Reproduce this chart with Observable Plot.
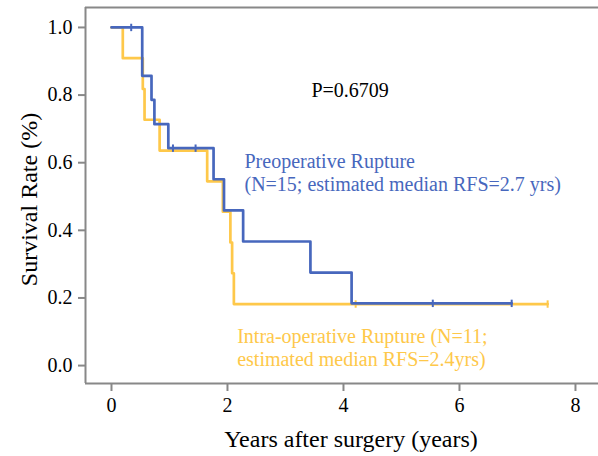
<!DOCTYPE html>
<html>
<head>
<meta charset="utf-8">
<script src="https://cdn.jsdelivr.net/npm/d3@7"></script>
<script src="https://cdn.jsdelivr.net/npm/@observablehq/plot@0.6"></script>
<style>
  html, body { margin: 0; padding: 0; background: #fff; }
</style>
</head>
<body>
<div id="chart"></div>
<script>
// Preoperative Rupture (N=15)
const preTimes = [0, 0.53, 0.69, 0.74, 0.98, 1.76, 1.94, 2.27, 3.43, 4.14, 6.90];
const preSurv  = [1, 0.857, 0.786, 0.714, 0.643, 0.551, 0.459, 0.367, 0.275, 0.184, 0.184];
const preCensorTimes = [0.34, 1.06, 1.45, 5.54, 6.90];
const preCensorSurv  = [1, 0.643, 0.643, 0.184, 0.184];

// Intra-operative Rupture (N=11)
const intraTimes = [0, 0.195, 0.54, 0.57, 0.83, 1.65, 1.92, 2.05, 2.08, 2.11, 7.52];
const intraSurv  = [1, 0.909, 0.818, 0.727, 0.636, 0.545, 0.455, 0.364, 0.273, 0.182, 0.182];
const intraCensorTimes = [4.21, 7.52];
const intraCensorSurv  = [0.182, 0.182];

const xTicks = [0, 2, 4, 6, 8];
const yTicks = [0, 0.2, 0.4, 0.6, 0.8, 1.0];

const pLabel = "P=0.6709";
const preLabel = "Preoperative Rupture\n(N=15; estimated median RFS=2.7 yrs)";
const intraLabel = "Intra-operative Rupture (N=11;\nestimated median RFS=2.4yrs)";
const xTitle = "Years after surgery (years)";
const yTitle = "Survival Rate (%)";

const BLUE = "#4767bd";
const YELLOW = "#fec84a";
const AXIS = "#888888";

const pre = preTimes.map((t, i) => ({t, s: preSurv[i]}));
const intra = intraTimes.map((t, i) => ({t, s: intraSurv[i]}));
const preC = preCensorTimes.map((t, i) => ({t, s: preCensorSurv[i]}));
const intraC = intraCensorTimes.map((t, i) => ({t, s: intraCensorSurv[i]}));

const xDomain = [-0.448, 8.397];
const yDomain = [-0.053, 1.059];

const censorSymbol = {
  draw(ctx, size) {
    const r = Math.sqrt(size / Math.PI);
    ctx.moveTo(0, -r);
    ctx.lineTo(0, r);
  }
};

const chart = Plot.plot({
  width: 598,
  height: 456,
  marginLeft: 85,
  marginTop: 7,
  marginBottom: 73,
  marginRight: 0,
  style: {fontFamily: "'Liberation Serif', 'DejaVu Serif', serif", fontSize: "20px", background: "white"},
  x: {domain: xDomain},
  y: {domain: yDomain},
  marks: [
    Plot.ruleY([yDomain[1]], {stroke: AXIS, strokeWidth: 2}),
    Plot.ruleY([yDomain[0]], {stroke: AXIS, strokeWidth: 2}),
    Plot.ruleX([xDomain[0]], {stroke: AXIS, strokeWidth: 2}),
    Plot.axisX({ticks: xTicks, tickFormat: d3.format("d"), tickSize: 8, tickPadding: 6, stroke: AXIS, strokeWidth: 2, fill: "black", fontSize: 20, label: null}),
    Plot.axisY({ticks: yTicks, tickFormat: d3.format(".1f"), tickSize: 7, tickPadding: 6, stroke: AXIS, strokeWidth: 2, fill: "black", fontSize: 20, label: null}),
    Plot.line(intra, {x: "t", y: "s", curve: "step-after", stroke: YELLOW, strokeWidth: 2.7}),
    Plot.dot(intraC, {x: "t", y: "s", symbol: censorSymbol, r: 3.7, stroke: YELLOW, strokeWidth: 2, fill: "none"}),
    Plot.line(pre, {x: "t", y: "s", curve: "step-after", stroke: BLUE, strokeWidth: 2.7}),
    Plot.dot(preC, {x: "t", y: "s", symbol: censorSymbol, r: 3.7, stroke: BLUE, strokeWidth: 2, fill: "none"}),
    Plot.text([pLabel], {x: 3.448, y: 0.812, text: d => d, textAnchor: "start", lineAnchor: "middle", fontSize: 20, fill: "black"}),
    Plot.text([preLabel], {x: 2.293, y: 0.5725, text: d => d, textAnchor: "start", lineAnchor: "middle", lineHeight: 1.17, fontSize: 20, fill: BLUE}),
    Plot.text([intraLabel], {x: 2.167, y: 0.0547, text: d => d, textAnchor: "start", lineAnchor: "middle", lineHeight: 1.17, fontSize: 20, fill: YELLOW}),
    Plot.text([xTitle], {frameAnchor: "bottom", dx: 9, dy: 56, text: d => d, textAnchor: "middle", lineAnchor: "middle", fontSize: 24, fill: "black"}),
    Plot.text([yTitle], {frameAnchor: "left", dx: -56, dy: 4, rotate: -90, text: d => d, textAnchor: "middle", lineAnchor: "middle", fontSize: 24, fill: "black"})
  ]
});
document.getElementById("chart").appendChild(chart);
</script>
</body>
</html>
